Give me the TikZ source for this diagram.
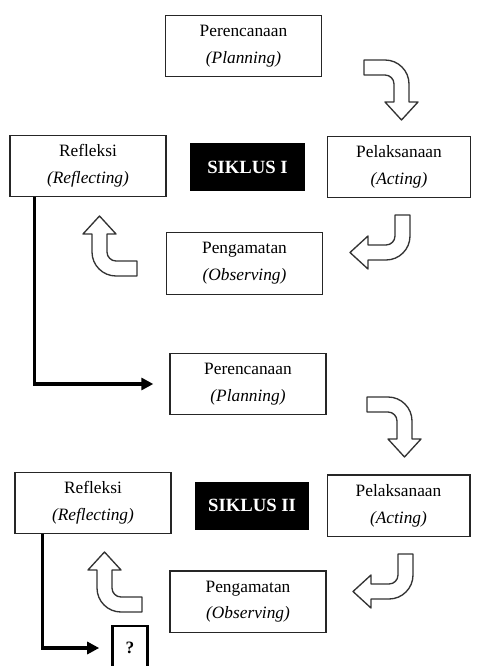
\documentclass[tikz,border=0pt]{standalone}
\usepackage{fontspec}
\setmainfont{Liberation Serif}
\usetikzlibrary{arrows.meta}
\tikzset{
  box/.style={draw=black!85, line width=1pt, inner sep=0pt, align=center,
    minimum width=117pt, minimum height=46pt,
    font=\fontsize{13}{20}\selectfont},
  actbox/.style={box, minimum width=107pt},
  cycbox/.style={fill=black, inner sep=0pt, text=white,
    minimum width=86pt, minimum height=36pt,
    font=\fontsize{14}{16}\selectfont\bfseries},
  qbox/.style={draw, line width=2.2pt, minimum width=26pt, minimum height=33pt,
    inner sep=0pt, font=\fontsize{13}{15}\selectfont\bfseries},
  flow/.style={line width=2.5pt, -{Triangle[length=9pt,width=9pt]}},
  blockarr/.style={draw=black!80, line width=1pt, fill=white, line join=round},
  bendarr/.pic={
    \draw[blockarr] (0,0) -- (21,0) .. controls (34.25,0) and (45,10.75) .. (45,24)
      -- (45,42) -- (54,42) -- (37.5,60) -- (21,42) -- (30,42) -- (30,24)
      .. controls (30,19.03) and (25.97,15) .. (21,15) -- (0,15) -- cycle;
  }
}
\begin{document}
\begin{tikzpicture}[x=0.75pt, y=-0.75pt]
	\clip (0,0) rectangle (476,666);
	\useasboundingbox (0,0) rectangle (476,666);
	% SIKLUS I
	\node[box] (plan1) at (243.5,46) {Perencanaan\\\textit{(Planning)}};
	\node[actbox] (act1) at (399,167) {Pelaksanaan\\\textit{(Acting)}};
	\node[box] (obs1) at (244.5,263.5) {Pengamatan\\\textit{(Observing)}};
	\node[box] (ref1) at (88,166) {Refleksi\\\textit{(Reflecting)}};
	\node[cycbox] (cyc1) at (247.5,167.5) {SIKLUS I};
	\pic at (364,60) {bendarr};
	\pic[rotate=-90] at (410,215) {bendarr};
	\pic[rotate=180] at (137,276) {bendarr};
	% SIKLUS II
	\node[box] (plan2) at (248,384) {Perencanaan\\\textit{(Planning)}};
	\node[actbox] (act2) at (398.5,505.5) {Pelaksanaan\\\textit{(Acting)}};
	\node[box] (obs2) at (248,601.5) {Pengamatan\\\textit{(Observing)}};
	\node[box] (ref2) at (93,503) {Refleksi\\\textit{(Reflecting)}};
	\node[cycbox] (cyc2) at (252,505.5) {SIKLUS II};
	\pic at (367,397) {bendarr};
	\pic[rotate=-90] at (413,554) {bendarr};
	\pic[rotate=180] at (142,612) {bendarr};
	\node[qbox] (next) at (130,648) {?};
	% alur antar siklus
	\draw[flow, shorten >=12pt] ([xshift=18.75pt]ref1.south west) |- (plan2.west);
	\draw[flow, shorten >=9pt] ([xshift=21pt]ref2.south west) |- (next.west);
\end{tikzpicture}
\end{document}
